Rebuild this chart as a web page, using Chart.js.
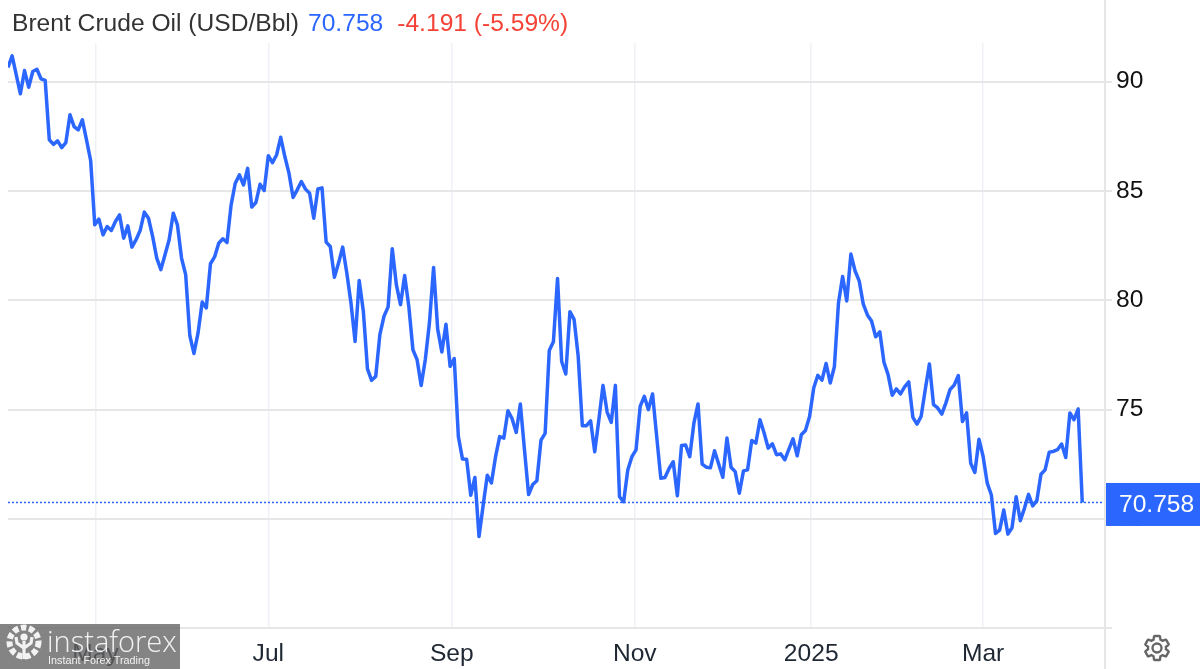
<!DOCTYPE html>
<html>
<head>
<meta charset="utf-8">
<title>Brent Crude Oil</title>
<script src="https://cdn.jsdelivr.net/npm/chart.js@4"></script>
<style>
  html, body { margin: 0; padding: 0; background: #fff; }
  #wrap { position: relative; width: 1200px; height: 669px; overflow: hidden; font-family: "Liberation Sans", Arial, sans-serif; }
  #title { position: absolute; left: 12px; top: 9px; font-size: 24.6px; line-height: 28px; color: #333; white-space: nowrap; }
  #title .last { color: #2b66ff; margin-left: 9px; }
  #title .change { color: #f44336; margin-left: 14px; }
  #mark { position: absolute; left: 0; top: 624px; width: 180px; height: 45px; background: rgba(97, 97, 97, 0.78); color: #f2f2f2; }
  #mark .name { position: absolute; left: 47px; top: -3px; font-family: "Open Sans", sans-serif; font-weight: 300; font-size: 29px; line-height: 40px; }
  #mark .sub { position: absolute; left: 48px; top: 29px; font-size: 10.8px; line-height: 14px; }
  #mark svg { position: absolute; left: 5px; top: -1px; }
  #gear { position: absolute; left: 1142px; top: 633px; }
</style>
</head>
<body>
<div id="wrap">
  <canvas id="chart" width="1200" height="669"></canvas>
  <div id="title">Brent Crude Oil (USD/Bbl)<span class="last">70.758</span><span class="change">-4.191 (-5.59%)</span></div>
  <div id="mark">
    <svg width="38" height="38" viewBox="0 0 38 38">
      <circle cx="19" cy="19" r="14.5" fill="none" stroke="#f2f2f2" stroke-width="6" stroke-dasharray="5.5 2.6"/>
      <circle cx="19" cy="14" r="3.6" fill="#f2f2f2"/>
      <path d="M19 18 V36 M11 14 L12 20 L19 25 L26 20 L27 14" fill="none" stroke="#f2f2f2" stroke-width="3.2"/>
    </svg>
    <div class="name">instaforex</div>
    <div class="sub">Instant Forex Trading</div>
  </div>
  <svg id="gear" width="30" height="30" viewBox="0 0 24 24">
    <path fill="none" stroke="#666" stroke-width="1.9" d="M19.14 12.94c.04-.3.06-.61.06-.94 0-.32-.02-.64-.07-.94l2.03-1.58c.18-.14.23-.41.12-.61l-1.92-3.32c-.12-.22-.37-.29-.59-.22l-2.39.96c-.5-.38-1.03-.7-1.62-.94l-.36-2.54c-.04-.24-.24-.41-.48-.41h-3.84c-.24 0-.43.17-.47.41l-.36 2.54c-.59.24-1.13.57-1.62.94l-2.39-.96c-.22-.08-.47 0-.59.22L2.74 8.87c-.12.21-.08.47.12.61l2.03 1.58c-.05.3-.09.63-.09.94s.02.64.07.94l-2.03 1.58c-.18.14-.23.41-.12.61l1.92 3.32c.12.22.37.29.59.22l2.39-.96c.5.38 1.03.7 1.62.94l.36 2.54c.05.24.24.41.48.41h3.84c.24 0 .44-.17.47-.41l.36-2.54c.59-.24 1.13-.56 1.62-.94l2.39.96c.22.08.47 0 .59-.22l1.92-3.32c.12-.22.07-.47-.12-.61l-2.01-1.58zM12 15.6c-1.98 0-3.6-1.62-3.6-3.6s1.62-3.6 3.6-3.6 3.6 1.62 3.6 3.6-1.62 3.6-3.6 3.6z"/>
  </svg>
</div>
<script>
// closing prices, one per trading day
const prices = [
  90.64,91.17,90.30,89.44,90.50,89.74,90.46,90.56,90.12,90.05,87.33,87.13,87.29,86.98,87.21,88.48,87.94,87.79,88.25,87.33,86.39,
  83.45,83.71,82.99,83.37,83.19,83.60,83.90,82.84,83.40,82.43,82.77,83.20,84.03,83.75,82.92,81.93,81.40,82.08,82.77,83.98,83.45,81.93,81.17,78.39,77.57,78.51,79.92,79.65,81.67,81.98,82.61,82.81,82.64,84.36,85.35,85.73,85.27,86.03,84.26,84.47,85.30,85.02,86.61,86.29,86.64,87.45,86.57,85.81,84.70,85.05,
  85.43,85.08,84.89,83.75,85.09,85.14,82.66,82.46,81.05,81.70,82.43,81.25,79.89,
  78.12,80.90,79.50,76.86,76.34,76.52,78.43,79.27,79.70,82.36,80.70,79.80,81.13,79.73,77.74,77.29,76.10,
  77.29,78.97,81.50,78.67,77.64,78.90,76.98,77.34,73.77,72.74,72.73,71.09,71.90,69.20,70.63,72.00,71.65,72.85,73.77,73.70,74.95,74.59,73.96,75.26,73.16,71.12,71.58,71.75,73.61,73.92,77.70,78.10,81.00,77.20,76.63,79.48,79.13,77.44,74.27,74.27,74.49,73.08,74.54,76.11,74.89,74.42,76.11,71.02,70.79,72.24,72.85,73.16,75.15,75.61,75.00,75.72,73.77,71.86,71.90,72.31,72.62,71.06,73.36,73.38,72.85,74.38,75.26,72.51,72.37,72.34,73.12,
  72.52,71.91,73.70,72.37,72.17,71.18,72.20,72.25,73.59,73.47,74.54,73.93,73.24,73.44,72.94,72.98,72.71,73.20,73.67,72.89,73.85,74.05,74.69,75.99,76.57,76.35,77.11,76.22,76.96,79.89,81.09,79.97,82.11,81.35,80.89,79.82,79.33,79.05,78.33,78.56,77.17,76.60,75.66,75.95,75.72,76.04,76.27,74.65,74.34,74.69,75.92,77.09,75.23,75.08,74.80,75.31,75.92,76.12,76.56,74.46,74.85,72.55,72.13,73.65,72.86,71.64,71.10,
  69.34,69.49,70.41,69.31,69.60,71.02,69.92,70.49,71.13,70.60,70.84,72.05,72.25,73.06,73.09,73.17,73.43,72.81,74.85,74.54,75.03,70.758
];
const monthLabels = ['May', 'Jul', 'Sep', 'Nov', '2025', 'Mar'];
const monthIndex = [21.2, 63, 107.4, 151.7, 194.4, 236];
const priceTicks = [70, 75, 80, 85, 90];
const lastPrice = prices[prices.length - 1];

const xMax = 265.5;
const yMin = 65.02;
const yMax = 91.76;
const blue = '#2b66ff';

// frame of the plot and the blue price tag on the right axis
const framePlugin = {
  id: 'frame',
  afterDatasetsDraw(chart) {
    const { ctx, chartArea, scales } = chart;
    ctx.save();
    ctx.strokeStyle = '#e6e6e6';
    ctx.lineWidth = 2;
    ctx.beginPath();
    ctx.moveTo(chartArea.right, 0);
    ctx.lineTo(chartArea.right, chart.height);
    ctx.moveTo(chartArea.left, chartArea.bottom);
    ctx.lineTo(chartArea.right + 7, chartArea.bottom);
    ctx.stroke();
    const y = scales.y.getPixelForValue(lastPrice);
    ctx.fillStyle = blue;
    ctx.fillRect(chartArea.right + 1, y - 19.5, chart.width - chartArea.right, 43);
    ctx.fillStyle = '#fff';
    ctx.font = '24.6px "Liberation Sans", Arial, sans-serif';
    ctx.textAlign = 'left';
    ctx.textBaseline = 'middle';
    ctx.fillText(lastPrice.toFixed(3), chartArea.right + 14, y + 3);
    ctx.restore();
  }
};

const chart = new Chart(document.getElementById('chart'), {
  type: 'line',
  data: {
    datasets: [{
      data: prices.map((p, i) => ({ x: i, y: p })),
      borderColor: blue,
      borderWidth: 3.5,
      pointRadius: 0,
      tension: 0,
      borderJoinStyle: 'round'
    }, {
      data: [{ x: 0, y: lastPrice }, { x: xMax, y: lastPrice }],
      borderColor: blue,
      borderWidth: 1.5,
      borderDash: [2, 2],
      pointRadius: 0
    }]
  },
  options: {
    responsive: false,
    animation: false,
    layout: { padding: { left: 8, top: 43, right: 0, bottom: 0 } },
    plugins: { legend: { display: false }, tooltip: { enabled: false } },
    scales: {
      x: {
        type: 'linear',
        min: 0,
        max: xMax,
        afterFit(scale) { scale.height = 41; },
        afterBuildTicks(scale) { scale.ticks = monthIndex.map(v => ({ value: v })); },
        border: { display: false },
        grid: { color: '#eef2f7', lineWidth: 1.5, drawTicks: false },
        ticks: {
          autoSkip: false,
          maxRotation: 0,
          padding: 11,
          color: '#1f2733',
          font: { family: '"Liberation Sans", Arial, sans-serif', size: 24.6 },
          callback: function (value) { return monthLabels[monthIndex.indexOf(value)]; }
        }
      },
      y: {
        position: 'right',
        min: yMin,
        max: yMax,
        afterFit(scale) { scale.width = 95; },
        afterBuildTicks(scale) { scale.ticks = priceTicks.map(v => ({ value: v })); },
        border: { display: false },
        grid: { color: '#e6e6e6', lineWidth: 2, tickLength: 7 },
        ticks: {
          padding: 4,
          color: '#111',
          font: { family: '"Liberation Sans", Arial, sans-serif', size: 24.6 }
        }
      }
    }
  },
  plugins: [framePlugin]
});
</script>
</body>
</html>
